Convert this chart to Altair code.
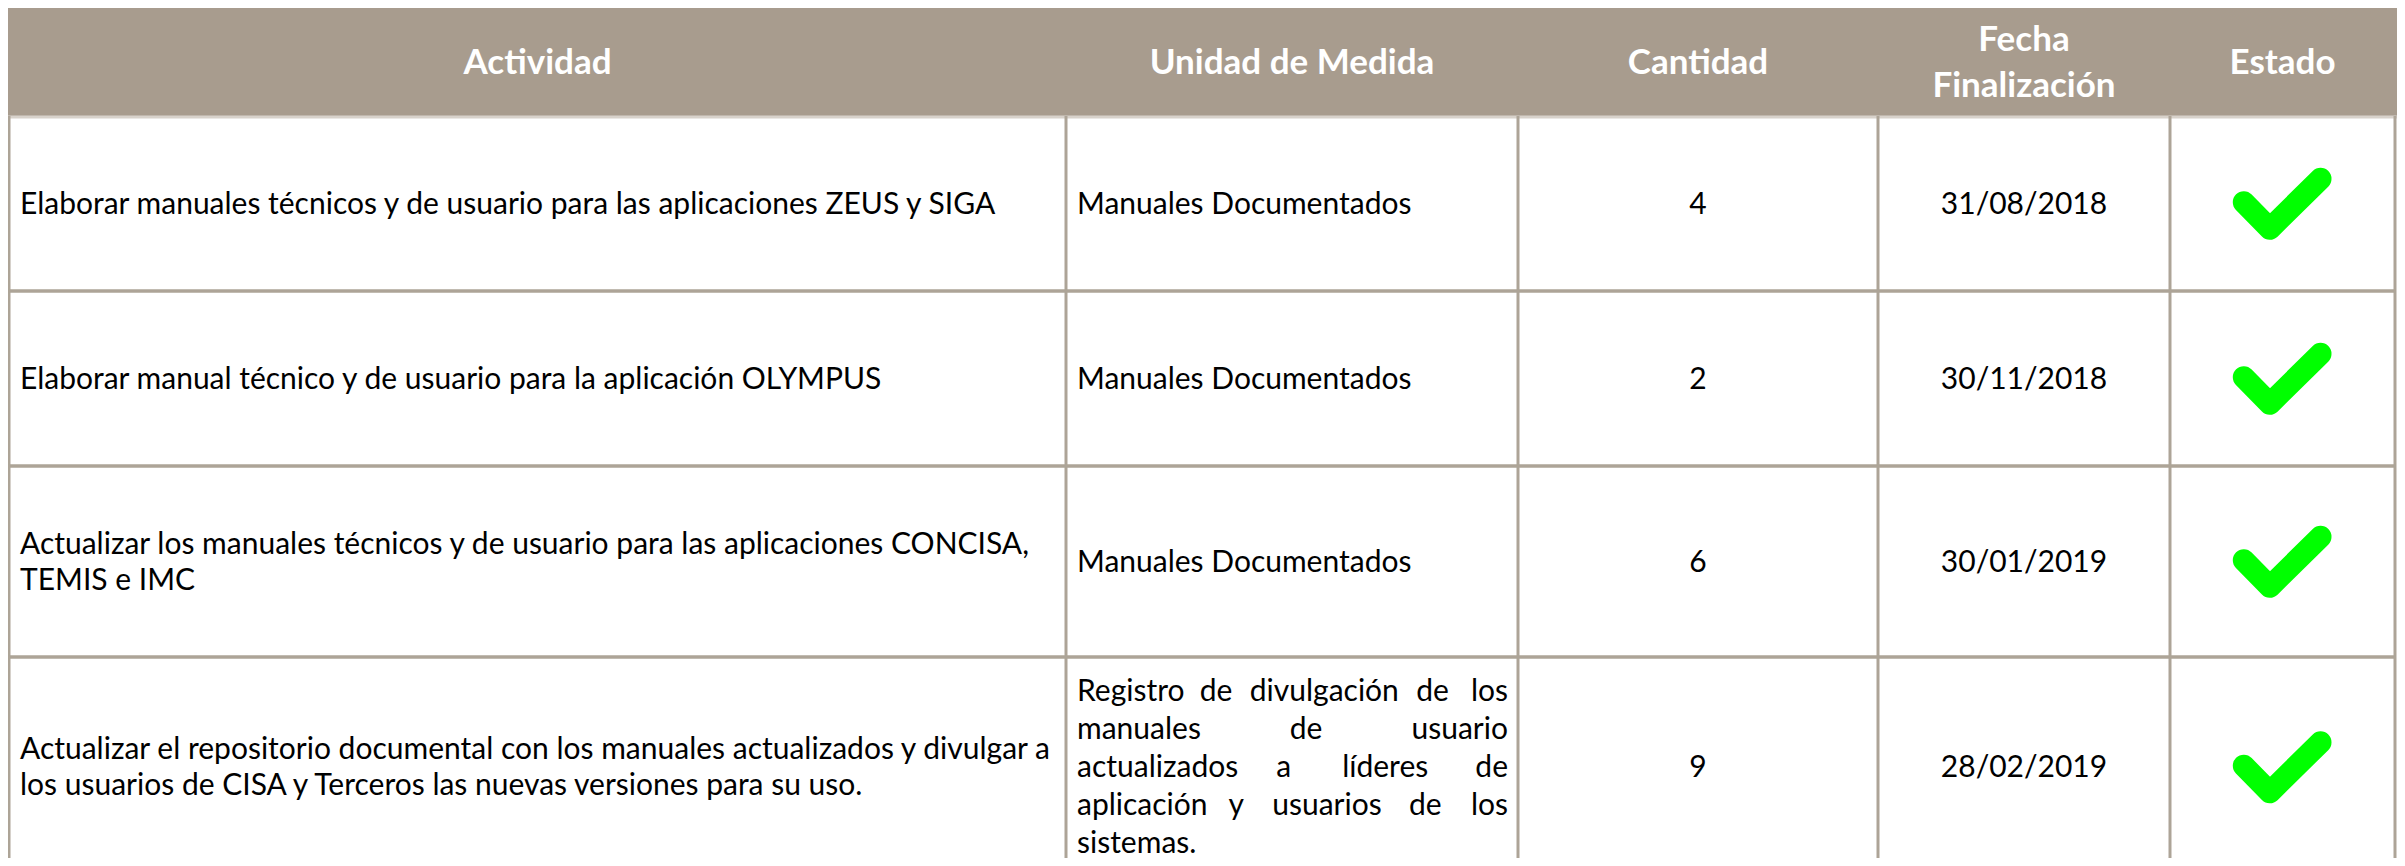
import altair as alt
import pandas as pd

# ---------------- data ----------------
headers = ["Actividad", "Unidad de Medida", "Cantidad", "Fecha\nFinalización", "Estado"]
actividades = [
    "Elaborar manuales técnicos y de usuario para las aplicaciones ZEUS y SIGA",
    "Elaborar manual técnico y de usuario para la aplicación OLYMPUS",
    "Actualizar los manuales técnicos y de usuario para las aplicaciones CONCISA,\nTEMIS e IMC",
    "Actualizar el repositorio documental con los manuales actualizados y divulgar a\nlos usuarios de CISA y Terceros las nuevas versiones para su uso.",
]
unidades = [
    "Manuales Documentados",
    "Manuales Documentados",
    "Manuales Documentados",
    "Registro de divulgación de los\nmanuales de usuario\nactualizados a líderes de\naplicación y usuarios de los\nsistemas.",
]
cantidades = [4, 2, 6, 9]
fechas = ["31/08/2018", "30/11/2018", "30/01/2019", "28/02/2019"]
estados = ["completado", "completado", "completado", "completado"]

# ---------------- layout ----------------
W, H = 2389, 850
col_edges = [1, 1058, 1510, 1870, 2162, 2387]
row_edges = [0, 108, 283, 458, 649, 869]
PAD = 11
FS = 30          # body font size
FS_H = 35        # header font size
LH1 = 36         # line height col 1
LH2 = 38         # line height col 2
LHH = 46         # header line height
FONT = "Lato"
HEAD_BG = "#A89C8E"
GRID = "#ADA497"

xs = alt.Scale(domain=[0, W], range=[0, W], nice=False, zero=False)
ys = alt.Scale(domain=[0, H], range=[0, H], nice=False, zero=False)


def X(f):
    return alt.X(f, type="quantitative", scale=xs, axis=None)


def Y(f):
    return alt.Y(f, type="quantitative", scale=ys, axis=None)


def col_center(i):
    return (col_edges[i] + col_edges[i + 1]) / 2


def row_center(r):
    return (row_edges[r + 1] + row_edges[r + 2]) / 2 + 1


def split_lines(txt, cx, cy, lh, align="left"):
    lines = txt.split("\n")
    n = len(lines)
    return [{"t": ln, "x": cx, "y": cy + (k - (n - 1) / 2) * lh, "a": align}
            for k, ln in enumerate(lines)]


# header background
head_df = pd.DataFrame([{"x": 0, "x2": W, "y": row_edges[0], "y2": row_edges[1]}])
head_bg = alt.Chart(head_df).mark_rect(color=HEAD_BG).encode(
    x=X("x"), x2="x2", y=Y("y"), y2="y2")

# header texts
hrows = []
for i, h in enumerate(headers):
    hrows += split_lines(h, col_center(i), (row_edges[0] + row_edges[1]) / 2 + 1, LHH, "center")
ht = pd.DataFrame(hrows)
head_txt = alt.Chart(ht).mark_text(
    font=FONT, fontSize=FS_H, fontWeight="bold", color="white",
    align="center", baseline="middle"
).encode(x=X("x"), y=Y("y"), text="t:N")

# grid lines
vdf = pd.DataFrame({"x": col_edges, "y": [row_edges[1]] * len(col_edges), "y2": [H] * len(col_edges)})
vlines = alt.Chart(vdf).mark_rule(color=GRID, strokeWidth=3).encode(x=X("x"), y=Y("y"), y2="y2")

hdf = pd.DataFrame({"y": row_edges[2:5], "x": [0] * 3, "x2": [col_edges[-1] + 1] * 3})
hlines = alt.Chart(hdf).mark_rule(color=GRID, strokeWidth=3.5).encode(y=Y("y"), x=X("x"), x2="x2")

hb = pd.DataFrame({"y": [row_edges[1] + 1], "x": [0], "x2": [W]})
hbline = alt.Chart(hb).mark_rule(color="#D8D2CB", strokeWidth=3).encode(y=Y("y"), x=X("x"), x2="x2")

# column 1 text
c1rows = []
for r, txt in enumerate(actividades):
    c1rows += split_lines(txt, col_edges[0] + PAD, row_center(r), LH1)
c1 = pd.DataFrame(c1rows)
c1_txt = alt.Chart(c1).mark_text(
    font=FONT, fontSize=FS, color="#000000", align="left", baseline="middle"
).encode(x=X("x"), y=Y("y"), text="t:N")


# column 2 text (justified, like the source)
def est_width(word, fs):
    w = 0.0
    for ch in word:
        if ch in "iljíI.,;:'!|":
            w += 0.245
        elif ch in "frt":
            w += 0.36
        elif ch in "mw":
            w += 0.84
        elif ch in "MW":
            w += 0.9
        elif ch.isupper():
            w += 0.66
        elif ch.isdigit():
            w += 0.58
        elif ch in "sz":
            w += 0.43
        elif ch in "cvyg":
            w += 0.49
        else:
            w += 0.54
    return w * fs * 0.88


rows = []
left = col_edges[1] + PAD
right = col_edges[2] - PAD + 1
for r, txt in enumerate(unidades):
    lines = txt.split("\n")
    n = len(lines)
    cy = row_center(r)
    for k, line in enumerate(lines):
        y = cy + (k - (n - 1) / 2) * LH2
        words = line.split(" ")
        if n == 1 or k == n - 1 or len(words) == 1:
            rows.append({"t": line, "x": left, "y": y, "a": "left"})
            continue
        ws = [est_width(w, FS) for w in words]
        gap = (right - left - sum(ws)) / (len(words) - 1)
        pos = left
        for i, (w, wd) in enumerate(zip(words, ws)):
            if i == 0:
                rows.append({"t": w, "x": left, "y": y, "a": "left"})
            elif i == len(words) - 1:
                rows.append({"t": w, "x": right, "y": y, "a": "right"})
            else:
                rows.append({"t": w, "x": pos + wd / 2, "y": y, "a": "center"})
            pos += wd + gap
c2 = pd.DataFrame(rows)
c2_parts = []
for a in ["left", "center", "right"]:
    sub = c2[c2["a"] == a]
    if len(sub):
        c2_parts.append(alt.Chart(sub).mark_text(
            font=FONT, fontSize=FS, color="#000000", align=a, baseline="middle"
        ).encode(x=X("x"), y=Y("y"), text="t:N"))

# columns 3 & 4
c34 = pd.DataFrame({
    "t": [str(v) for v in cantidades] + fechas,
    "x": [col_center(2)] * 4 + [col_center(3)] * 4,
    "y": [row_center(r) for r in range(4)] * 2,
})
c34_txt = alt.Chart(c34).mark_text(
    font=FONT, fontSize=FS, color="#000000", align="center", baseline="middle"
).encode(x=X("x"), y=Y("y"), text="t:N")

# check marks (Estado)
CHECK = "M -0.754 -0.066 L -0.234 0.466 L 0.78 -0.534"
ck = pd.DataFrame({
    "estado": estados,
    "x": [col_center(4) - 1] * 4,
    "y": [row_center(r) + 1 for r in range(4)],
})
checks = alt.Chart(ck).mark_point(
    shape=CHECK, size=10000, filled=False, color="#00FF00", strokeWidth=22,
    strokeCap="round", strokeJoin="round", opacity=1
).encode(x=X("x"), y=Y("y"), tooltip="estado:N")

chart = alt.layer(
    head_bg, hbline, vlines, hlines, head_txt, c1_txt, *c2_parts, c34_txt, checks
).properties(
    width=W, height=H, autosize=alt.AutoSizeParams(type="none"), padding=0,
    background="white"
).configure_view(strokeWidth=0)

chart.save("out.html", embed_options={"renderer": "svg", "actions": False})
